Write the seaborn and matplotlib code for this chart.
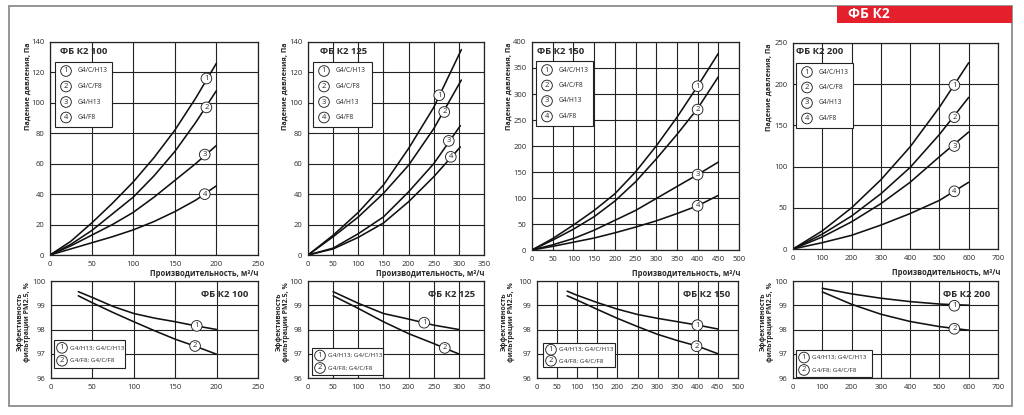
import numpy as np
import pandas as pd
import matplotlib
matplotlib.use("Agg")
import matplotlib.pyplot as plt
from matplotlib.patches import Rectangle
import seaborn as sns

sns.set_style("white")
plt.rcParams['font.family'] = ['Open Sans', 'DejaVu Sans']

# ---------------- data ----------------
titles = ["ФБ К2 100", "ФБ К2 125", "ФБ К2 150", "ФБ К2 200"]
legend_top = ["G4/C/H13", "G4/C/F8", "G4/H13", "G4/F8"]
legend_bot = ["G4/H13; G4/C/H13", "G4/F8; G4/C/F8"]

# pressure drop, Pa
p100_x = [0, 25, 50, 75, 100, 125, 150, 175, 200]
p100_c1 = [0, 9, 21, 34, 48, 64, 82, 103, 126]
p100_c2 = [0, 7, 16, 27, 38, 52, 68, 87, 108]
p100_c3 = [0, 6, 13, 20, 28, 38, 49, 60, 72]
p100_c4 = [0, 4, 8, 12, 16.5, 22, 28.5, 36, 45.5]

p125_x = [0, 50, 100, 150, 200, 250, 305]
p125_c1 = [0, 13, 28, 46, 70, 97, 135]
p125_c2 = [0, 12, 25, 40.5, 59, 83, 115]
p125_x34 = [0, 50, 100, 150, 200, 250, 303]
p125_c3 = [0, 4.5, 14, 25, 41.5, 60, 85]
p125_c4 = [0, 4, 11.6, 21, 35, 51.4, 71]

p150_x = [0, 50, 100, 150, 200, 250, 300, 350, 400, 450]
p150_c1 = [0, 22, 48, 76, 108, 150, 200, 255, 315, 378]
p150_c2 = [0, 19, 40, 64, 94, 131, 175, 222, 272, 333]
p150_c3 = [0, 10, 22, 38, 57, 76, 99, 122, 145, 169]
p150_c4 = [0, 7, 15, 23, 33, 44, 56, 70, 85, 105]

p200_x = [0, 100, 200, 300, 400, 500, 600]
p200_c1 = [0, 22, 50, 84, 124, 172, 226]
p200_c2 = [0, 18, 40, 67, 99, 139, 184]
p200_c3 = [0, 14.6, 33, 55, 81, 112, 142]
p200_c4 = [0, 7.7, 16.6, 29, 43, 59, 81]

# filtration efficiency PM2.5, %
e100_x = [33, 50, 75, 100, 125, 150, 175, 200]
e100_c1 = [99.56, 99.32, 98.95, 98.66, 98.47, 98.32, 98.15, 98.0]
e100_c2 = [99.39, 99.10, 98.70, 98.32, 97.95, 97.60, 97.30, 96.98]

e125_x = [50, 100, 150, 200, 250, 300]
e125_c1 = [99.56, 99.08, 98.66, 98.43, 98.18, 98.0]
e125_c2 = [99.39, 98.87, 98.32, 97.83, 97.42, 96.99]

e150_x = [75, 100, 150, 200, 250, 300, 350, 400, 450]
e150_c1 = [99.58, 99.41, 99.11, 98.84, 98.62, 98.46, 98.32, 98.18, 98.02]
e150_c2 = [99.39, 99.21, 98.83, 98.46, 98.12, 97.80, 97.54, 97.31, 97.0]

e200_x = [100, 200, 300, 400, 500, 600]
e200_c1 = [99.70, 99.47, 99.29, 99.15, 99.05, 99.0]
e200_c2 = [99.55, 99.04, 98.63, 98.33, 98.12, 97.97]

# circled number positions on curves
mk100 = [(188, 116), (188, 97), (186, 66), (186, 40)]
mk125 = [(261, 105), (271, 94), (280, 75), (284, 64.5)]
mk150 = [(400, 315), (400, 270), (400, 145), (400, 85)]
mk200 = [(551, 199), (551, 160), (551, 125), (551, 70)]
mke100 = [(176, 98.15), (174, 97.32)]
mke125 = [(231, 98.28), (272, 97.24)]
mke150 = [(399, 98.18), (397, 97.31)]
mke200 = [(551, 98.98), (551, 98.03)]

# ---------------- layout ----------------
W, H = 1024, 415
fig = plt.figure(figsize=(W / 100, H / 100), dpi=100)
fig.patch.set_facecolor("white")

def fx(px):
    return px / W

def fy(py):
    return 1 - py / H

def make_ax(x0, x1, y0, y1):
    return fig.add_axes([fx(x0), fy(y1), fx(x1) - fx(x0), (y1 - y0) / H])

TXT = "#2a2a2a"
LINE = "#111111"

def style(ax, xlim, xstep, ylim, ystep):
    ax.set_xlim(*xlim)
    ax.set_ylim(*ylim)
    ax.set_xticks(np.arange(xlim[0], xlim[1] + 0.01, xstep))
    ax.set_yticks(np.arange(ylim[0], ylim[1] + 0.01, ystep))
    ax.grid(True, color="#222222", lw=0.8)
    for s in ax.spines.values():
        s.set_color("#222222")
        s.set_linewidth(0.9)
    ax.tick_params(length=0, labelsize=5.5, colors=TXT, pad=4)
    ax.set_xlabel("")
    ax.set_ylabel("")

def circ(x, y, n, ax=None, fs=5.5, pad=0.24):
    kw = dict(ha="center", va="center", fontsize=fs, color=TXT, zorder=6,
              bbox=dict(boxstyle=f"circle,pad={pad}", fc="white", ec="#222222", lw=0.65))
    if ax is not None:
        ax.text(x, y, str(n), **kw)
    else:
        fig.text(x, y, str(n), **kw)

def curve(ax, xs, ys):
    sns.lineplot(x=xs, y=ys, ax=ax, color=LINE, lw=1.15, estimator=None, sort=False)

top_specs = [
    dict(box=(50, 258, 42, 255), xlim=(0, 250), xs=50, ylim=(0, 140), ys=20,
         curves=[(p100_x, p100_c1), (p100_x, p100_c2), (p100_x, p100_c3), (p100_x, p100_c4)],
         mk=mk100, title=(60, 52), leg=(55, 112, 62, 127), ylab=28, xlab=(258, 273)),
    dict(box=(308, 484, 42, 255), xlim=(0, 350), xs=50, ylim=(0, 140), ys=20,
         curves=[(p125_x, p125_c1), (p125_x, p125_c2), (p125_x34, p125_c3), (p125_x34, p125_c4)],
         mk=mk125, title=(320, 52), leg=(313, 372, 62, 127), ylab=285, xlab=(485, 273)),
    dict(box=(532, 739, 42, 250), xlim=(0, 500), xs=50, ylim=(0, 400), ys=50,
         curves=[(p150_x, p150_c1), (p150_x, p150_c2), (p150_x, p150_c3), (p150_x, p150_c4)],
         mk=mk150, title=(537, 52), leg=(536, 593, 61, 126), ylab=509, xlab=(740, 273)),
    dict(box=(793, 998, 43, 249), xlim=(0, 700), xs=100, ylim=(0, 250), ys=50,
         curves=[(p200_x, p200_c1), (p200_x, p200_c2), (p200_x, p200_c3), (p200_x, p200_c4)],
         mk=mk200, title=(796, 52), leg=(796, 853, 63, 128), ylab=769, xlab=(1000, 272)),
]

bot_specs = [
    dict(box=(51, 258, 281, 378), xlim=(0, 250), xs=50,
         curves=[(e100_x, e100_c1), (e100_x, e100_c2)], mk=mke100,
         title=(248, 294), leg=(54, 125, 340, 368), ylab=24),
    dict(box=(308, 484, 281, 378), xlim=(0, 350), xs=50,
         curves=[(e125_x, e125_c1), (e125_x, e125_c2)], mk=mke125,
         title=(475, 294), leg=(312, 383, 348, 375), ylab=283),
    dict(box=(537, 738, 281, 378), xlim=(0, 500), xs=50,
         curves=[(e150_x, e150_c1), (e150_x, e150_c2)], mk=mke150,
         title=(730, 294), leg=(543, 615, 343, 367), ylab=508),
    dict(box=(793, 998, 281, 378), xlim=(0, 700), xs=100,
         curves=[(e200_x, e200_c1), (e200_x, e200_c2)], mk=mke200,
         title=(990, 294), leg=(796, 872, 350, 377), ylab=767),
]

for i, sp in enumerate(top_specs):
    x0, x1, y0, y1 = sp["box"]
    ax = make_ax(x0, x1, y0, y1)
    for xs_, ys_ in sp["curves"]:
        curve(ax, xs_, ys_)
    style(ax, sp["xlim"], sp["xs"], sp["ylim"], sp["ys"])
    for n, (mx, my) in enumerate(sp["mk"], start=1):
        circ(mx, my, n, ax=ax)
    fig.text(fx(sp["title"][0]), fy(sp["title"][1]), titles[i], fontsize=6.8,
             fontweight="bold", color=TXT, ha="left", va="center", zorder=7)
    lx0, lx1, ly0, ly1 = sp["leg"]
    fig.add_artist(Rectangle((fx(lx0), fy(ly1)), fx(lx1) - fx(lx0), (ly1 - ly0) / H,
                             transform=fig.transFigure, fc="white", ec="#222222", lw=0.8, zorder=5))
    for k, lab in enumerate(legend_top):
        ry = ly0 + 9 + k * 15.5
        circ(fx(lx0 + 11), fy(ry), k + 1)
        fig.text(fx(lx0 + 23), fy(ry), lab, fontsize=4.8, color=TXT, ha="left",
                 va="center", zorder=7)
    fig.text(fx(sp["ylab"]), fy(y0), "Падение давления, Па", rotation=90, fontsize=5.3,
             fontweight="bold", color=TXT, ha="center", va="top")
    fig.text(fx(sp["xlab"][0]), fy(sp["xlab"][1]), "Производительность, м³/ч", fontsize=5.5,
             fontweight="bold", color=TXT, ha="right", va="center")

for i, sp in enumerate(bot_specs):
    x0, x1, y0, y1 = sp["box"]
    ax = make_ax(x0, x1, y0, y1)
    for xs_, ys_ in sp["curves"]:
        curve(ax, xs_, ys_)
    style(ax, sp["xlim"], sp["xs"], (96, 100), 1)
    for n, (mx, my) in enumerate(sp["mk"], start=1):
        circ(mx, my, n, ax=ax)
    fig.text(fx(sp["title"][0]), fy(sp["title"][1]), titles[i], fontsize=6.8,
             fontweight="bold", color=TXT, ha="right", va="center", zorder=7)
    lx0, lx1, ly0, ly1 = sp["leg"]
    fig.add_artist(Rectangle((fx(lx0), fy(ly1)), fx(lx1) - fx(lx0), (ly1 - ly0) / H,
                             transform=fig.transFigure, fc="white", ec="#222222", lw=0.8, zorder=5))
    hh = (ly1 - ly0)
    for k, lab in enumerate(legend_bot):
        ry = ly0 + hh * (0.28 + 0.46 * k)
        circ(fx(lx0 + 8), fy(ry), k + 1)
        fig.text(fx(lx0 + 16), fy(ry), lab, fontsize=4.5, color=TXT, ha="left",
                 va="center", zorder=7)
    fig.text(fx(sp["ylab"]), fy(y0 + 1), "Эффективность\nфильтрации PM2.5, %", rotation=90,
             fontsize=5.0, fontweight="bold", color=TXT, ha="center", va="top",
             multialignment="center", linespacing=1.0)

# outer frame and red banner
fig.add_artist(Rectangle((fx(9), fy(406)), fx(1012) - fx(9), (406 - 6) / H,
                         transform=fig.transFigure, fill=False, ec="#8c8c8c", lw=1.3))
fig.add_artist(Rectangle((fx(837), fy(23)), fx(1012) - fx(837), 17 / H,
                         transform=fig.transFigure, fc="#e3202b", ec="none", zorder=3))
fig.text(fx(848), fy(14.5), "ФБ К2", fontsize=10, fontweight="bold", color="white",
         ha="left", va="center", zorder=4)

fig.savefig("out.png", dpi=100, facecolor="white")
